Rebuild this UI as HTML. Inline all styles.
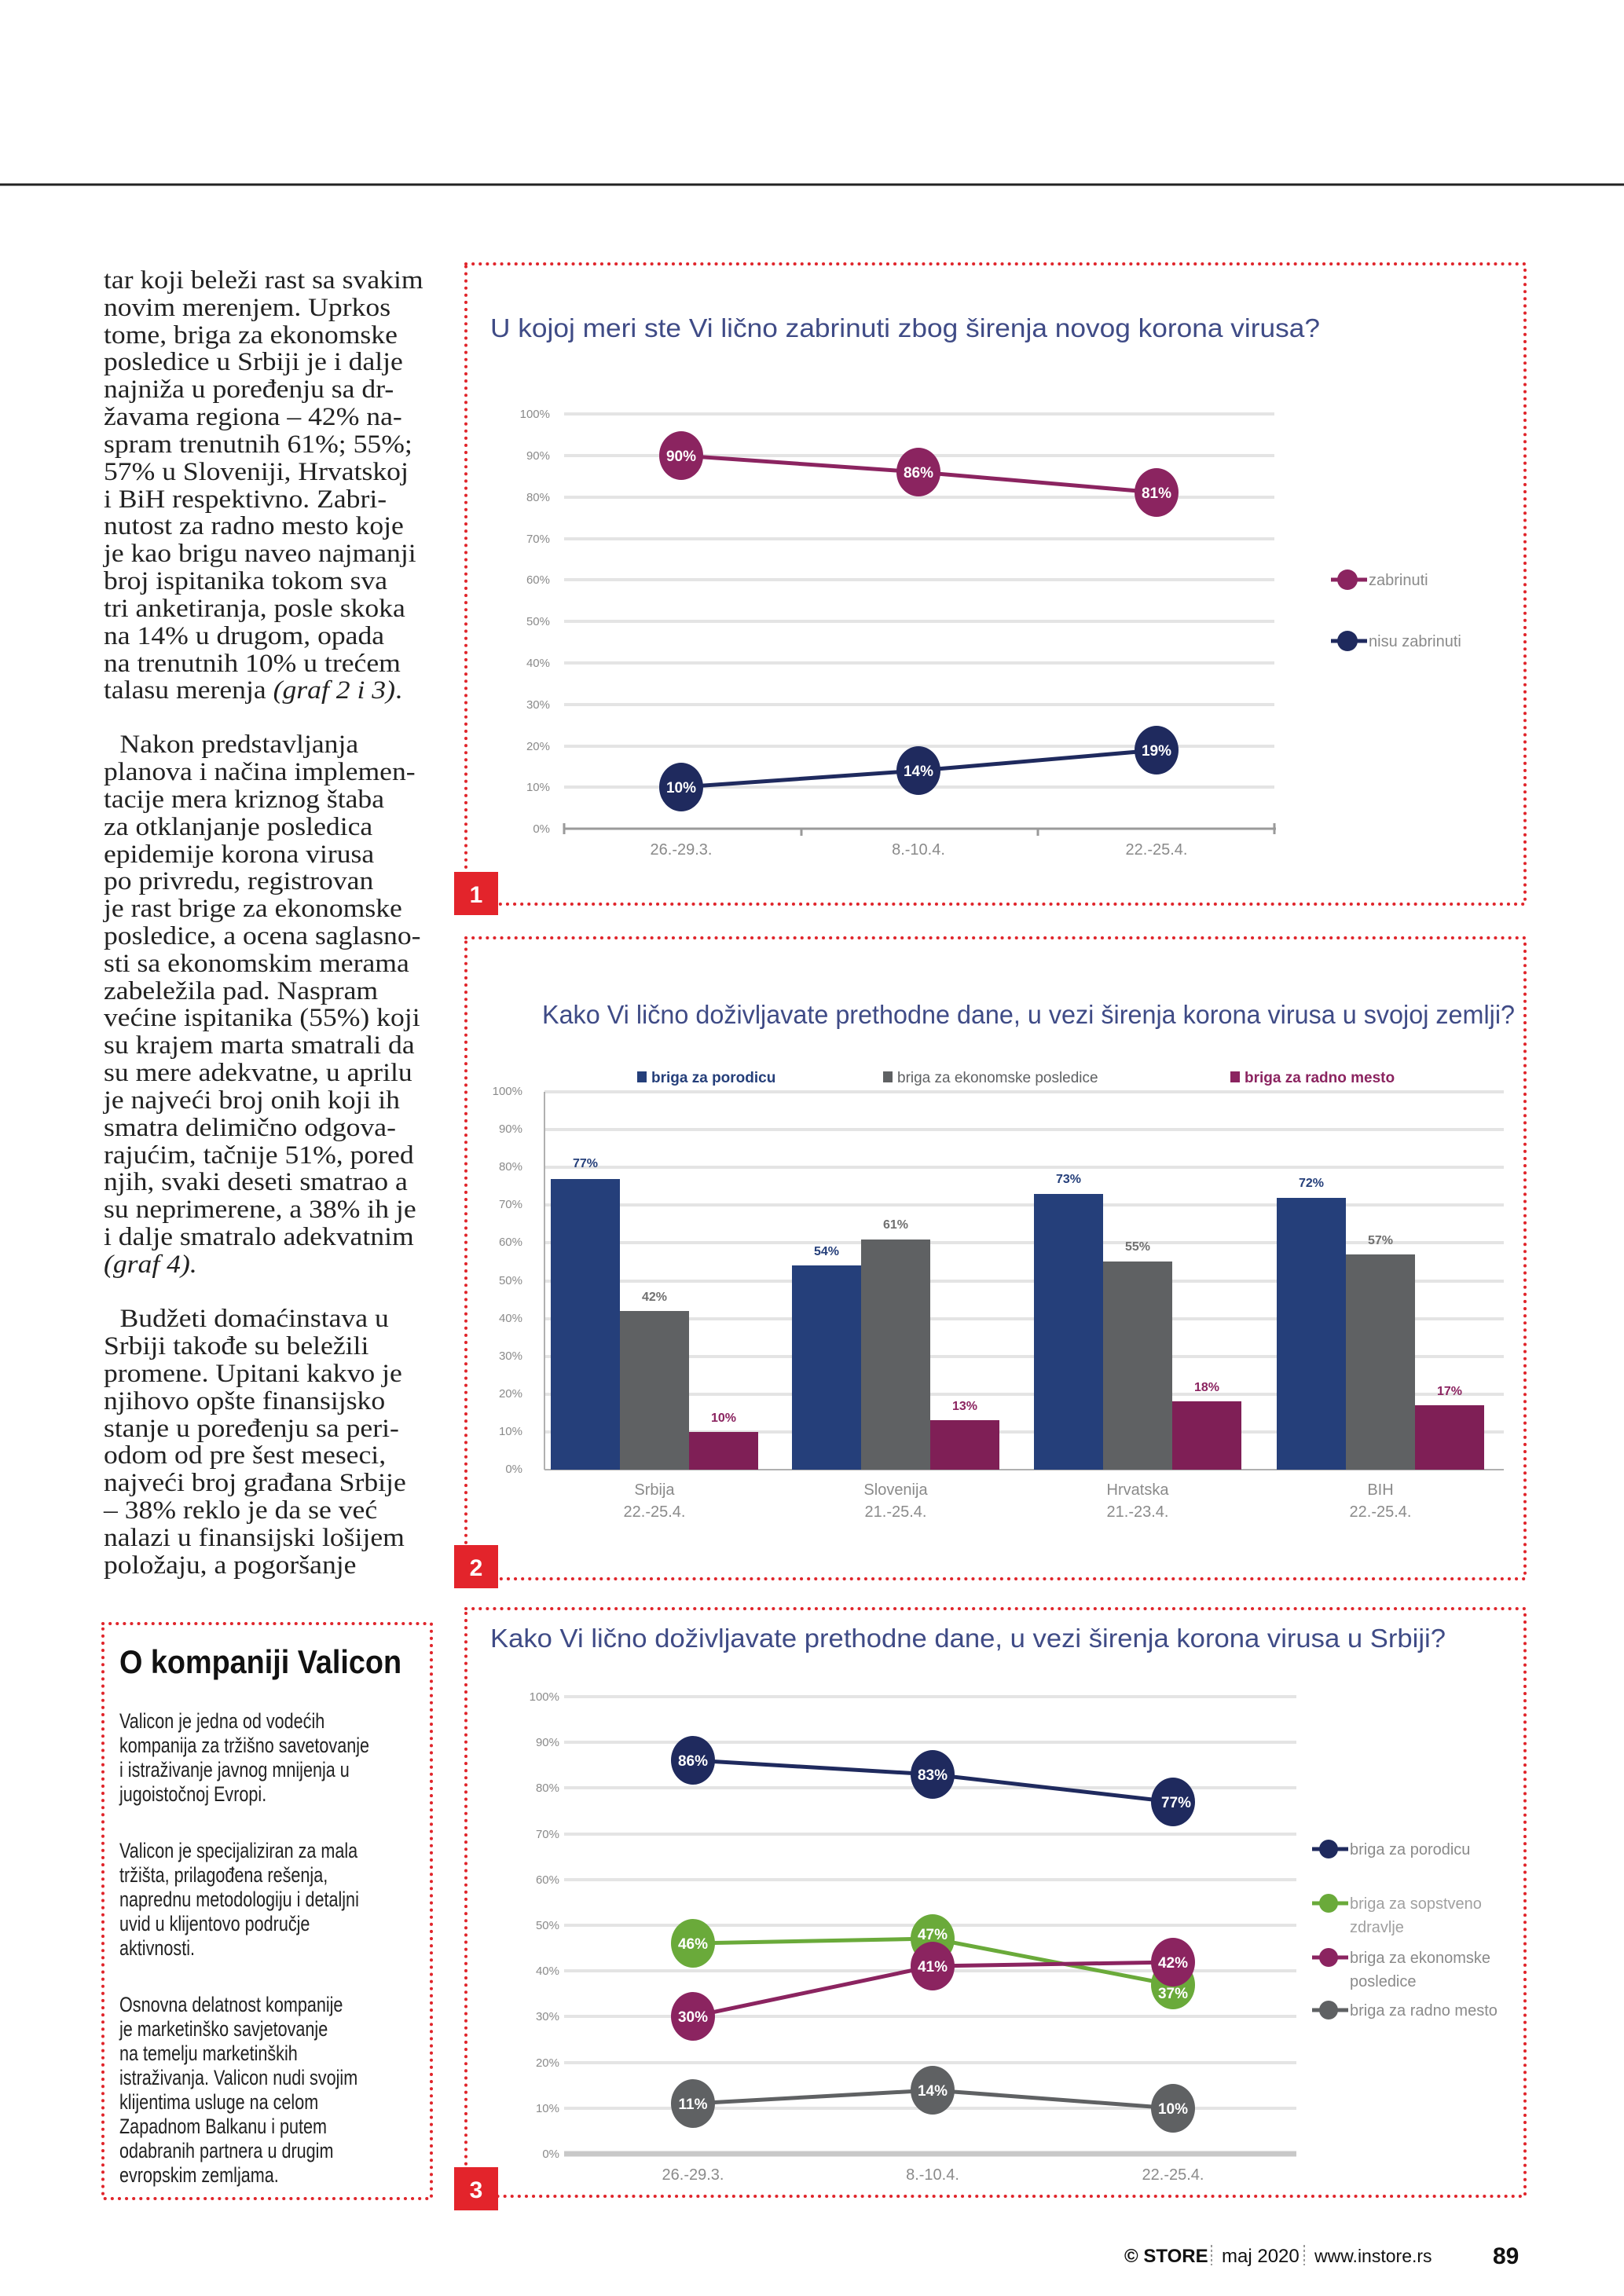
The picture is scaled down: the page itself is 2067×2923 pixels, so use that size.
<!DOCTYPE html>
<html><head><meta charset="utf-8">
<style>
html,body{margin:0;padding:0;background:#fff;}
svg{display:block;}
.body{font-family:"Liberation Serif",serif;font-size:33px;fill:#222;}
.ax{font-family:"Liberation Sans",sans-serif;font-size:15px;fill:#8a8a8a;}
.xl{font-family:"Liberation Sans",sans-serif;font-size:20px;fill:#8a8a8a;}
.tt{font-family:"Liberation Sans",sans-serif;font-size:33px;fill:#3f4b86;}
.ml{font-family:"Liberation Sans",sans-serif;font-size:19px;font-weight:bold;fill:#fff;}
.lg{font-family:"Liberation Sans",sans-serif;font-size:20px;fill:#8a8a8a;}
.vb{font-family:"Liberation Sans",sans-serif;font-size:16px;font-weight:bold;}
.nar{font-family:"Liberation Sans",sans-serif;font-size:27px;fill:#222;}
</style></head>
<body>
<svg width="2067" height="2923" viewBox="0 0 2067 2923" xmlns="http://www.w3.org/2000/svg">
<rect width="2067" height="2923" fill="#fff"/>
<line x1="0" y1="235" x2="2067" y2="235" stroke="#222" stroke-width="3"/>

<!-- left text column -->
<g class="body" transform="translate(132 0) scale(1.08 1) translate(-132 0)">
<text x="132" y="367">tar koji beleži rast sa svakim</text>
<text x="132" y="402">novim merenjem. Uprkos</text>
<text x="132" y="437">tome, briga za ekonomske</text>
<text x="132" y="471">posledice u Srbiji je i dalje</text>
<text x="132" y="506">najniža u poređenju sa dr-</text>
<text x="132" y="541">žavama regiona – 42% na-</text>
<text x="132" y="576">spram trenutnih 61%; 55%;</text>
<text x="132" y="611">57% u Sloveniji, Hrvatskoj</text>
<text x="132" y="646">i BiH respektivno. Zabri-</text>
<text x="132" y="680">nutost za radno mesto koje</text>
<text x="132" y="715">je kao brigu naveo najmanji</text>
<text x="132" y="750">broj ispitanika tokom sva</text>
<text x="132" y="785">tri anketiranja, posle skoka</text>
<text x="132" y="820">na 14% u drugom, opada</text>
<text x="132" y="855">na trenutnih 10% u trećem</text>
<text x="132" y="889">talasu merenja <tspan font-style="italic">(graf 2 i 3)</tspan>.</text>

<text x="151" y="958">Nakon predstavljanja</text>
<text x="132" y="993">planova i načina implemen-</text>
<text x="132" y="1028">tacije mera kriznog štaba</text>
<text x="132" y="1063">za otklanjanje posledica</text>
<text x="132" y="1098">epidemije korona virusa</text>
<text x="132" y="1132">po privredu, registrovan</text>
<text x="132" y="1167">je rast brige za ekonomske</text>
<text x="132" y="1202">posledice, a ocena saglasno-</text>
<text x="132" y="1237">sti sa ekonomskim merama</text>
<text x="132" y="1272">zabeležila pad. Naspram</text>
<text x="132" y="1306">većine ispitanika (55%) koji</text>
<text x="132" y="1341">su krajem marta smatrali da</text>
<text x="132" y="1376">su mere adekvatne, u aprilu</text>
<text x="132" y="1411">je najveći broj onih koji ih</text>
<text x="132" y="1446">smatra delimično odgova-</text>
<text x="132" y="1481">rajućim, tačnije 51%, pored</text>
<text x="132" y="1515">njih, svaki deseti smatrao a</text>
<text x="132" y="1550">su neprimerene, a 38% ih je</text>
<text x="132" y="1585">i dalje smatralo adekvatnim</text>
<text x="132" y="1620" font-style="italic">(graf 4).</text>

<text x="151" y="1689">Budžeti domaćinstava u</text>
<text x="132" y="1724">Srbiji takođe su beležili</text>
<text x="132" y="1759">promene. Upitani kakvo je</text>
<text x="132" y="1794">njihovo opšte finansijsko</text>
<text x="132" y="1829">stanje u poređenju sa peri-</text>
<text x="132" y="1863">odom od pre šest meseci,</text>
<text x="132" y="1898">najveći broj građana Srbije</text>
<text x="132" y="1933">– 38% reklo je da se već</text>
<text x="132" y="1968">nalazi u finansijski lošijem</text>
<text x="132" y="2003">položaju, a pogoršanje</text>
</g>

<!-- Valicon box -->
<rect x="131" y="2067" width="418" height="732" fill="none" stroke="#e0252b" stroke-width="4" stroke-dasharray="0.1 9" stroke-linecap="round"/>
<text x="152" y="2130" font-family="Liberation Sans,sans-serif" font-size="42" font-weight="bold" fill="#111" transform="translate(152 0) scale(0.9 1) translate(-152 0)">O kompaniji Valicon</text>
<g class="nar" transform="translate(152 0) scale(0.8 1) translate(-152 0)">
<text x="152" y="2200">Valicon je jedna od vodećih</text>
<text x="152" y="2231">kompanija za tržišno savetovanje</text>
<text x="152" y="2262">i istraživanje javnog mnijenja u</text>
<text x="152" y="2293">jugoistočnoj Evropi.</text>
<text x="152" y="2365">Valicon je specijaliziran za mala</text>
<text x="152" y="2396">tržišta, prilagođena rešenja,</text>
<text x="152" y="2427">naprednu metodologiju i detaljni</text>
<text x="152" y="2458">uvid u klijentovo područje</text>
<text x="152" y="2489">aktivnosti.</text>
<text x="152" y="2561">Osnovna delatnost kompanije</text>
<text x="152" y="2592">je marketinško savjetovanje</text>
<text x="152" y="2623">na temelju marketinških</text>
<text x="152" y="2654">istraživanja. Valicon nudi svojim</text>
<text x="152" y="2685">klijentima usluge na celom</text>
<text x="152" y="2716">Zapadnom Balkanu i putem</text>
<text x="152" y="2747">odabranih partnera u drugim</text>
<text x="152" y="2778">evropskim zemljama.</text>
</g>

<!-- frames -->
<g fill="none" stroke="#e0252b" stroke-width="4" stroke-dasharray="0.1 9" stroke-linecap="round">
<rect x="593" y="336" width="1348" height="815"/>
<rect x="593" y="1194" width="1348" height="816"/>
<rect x="593" y="2048" width="1348" height="748"/>
</g>
<g font-family="Liberation Sans,sans-serif" font-size="30" font-weight="bold" fill="#fff" text-anchor="middle">
<rect x="578" y="1110" width="56" height="55" fill="#e3242b"/><text x="606" y="1149">1</text>
<rect x="578" y="1967" width="56" height="55" fill="#e3242b"/><text x="606" y="2006">2</text>
<rect x="578" y="2759" width="56" height="55" fill="#e3242b"/><text x="606" y="2798">3</text>
</g>

<!-- CHART 1 -->
<text class="tt" x="624" y="429" textLength="1056" lengthAdjust="spacingAndGlyphs">U kojoj meri ste Vi lično zabrinuti zbog širenja novog korona virusa?</text>
<g stroke="#e4e4e4" stroke-width="4">
<line x1="718" y1="527" x2="1622" y2="527"/><line x1="718" y1="580" x2="1622" y2="580"/>
<line x1="718" y1="633" x2="1622" y2="633"/><line x1="718" y1="686" x2="1622" y2="686"/>
<line x1="718" y1="738" x2="1622" y2="738"/><line x1="718" y1="791" x2="1622" y2="791"/>
<line x1="718" y1="844" x2="1622" y2="844"/><line x1="718" y1="897" x2="1622" y2="897"/>
<line x1="718" y1="950" x2="1622" y2="950"/><line x1="718" y1="1002" x2="1622" y2="1002"/>
</g>
<g stroke="#9a9a9a" stroke-width="3"><line x1="718" y1="1055" x2="1624" y2="1055"/>
<line x1="718" y1="1048" x2="718" y2="1062"/><line x1="1020" y1="1055" x2="1020" y2="1064"/><line x1="1321" y1="1055" x2="1321" y2="1064"/><line x1="1622" y1="1048" x2="1622" y2="1062"/></g>
<g class="ax" text-anchor="end">
<text x="700" y="532">100%</text><text x="700" y="585">90%</text><text x="700" y="638">80%</text><text x="700" y="691">70%</text><text x="700" y="743">60%</text><text x="700" y="796">50%</text><text x="700" y="849">40%</text><text x="700" y="902">30%</text><text x="700" y="955">20%</text><text x="700" y="1007">10%</text><text x="700" y="1060">0%</text>
</g>
<g class="xl" text-anchor="middle"><text x="867" y="1088">26.-29.3.</text><text x="1169" y="1088">8.-10.4.</text><text x="1472" y="1088">22.-25.4.</text></g>
<polyline points="867,580 1169,601 1472,627" fill="none" stroke="#8b2460" stroke-width="5"/>
<polyline points="867,1002 1169,981 1472,955" fill="none" stroke="#1f2a5e" stroke-width="5"/>
<g fill="#8b2460"><ellipse cx="867" cy="580" rx="28" ry="31"/><ellipse cx="1169" cy="601" rx="28" ry="31"/><ellipse cx="1472" cy="627" rx="28" ry="31"/></g>
<g fill="#1f2a5e"><ellipse cx="867" cy="1002" rx="28" ry="31"/><ellipse cx="1169" cy="981" rx="28" ry="31"/><ellipse cx="1472" cy="955" rx="28" ry="31"/></g>
<g class="ml" text-anchor="middle"><text x="867" y="587">90%</text><text x="1169" y="608">86%</text><text x="1472" y="634">81%</text>
<text x="867" y="1009">10%</text><text x="1169" y="988">14%</text><text x="1472" y="962">19%</text></g>
<line x1="1694" y1="738" x2="1740" y2="738" stroke="#8b2460" stroke-width="5"/><circle cx="1715" cy="738" r="13" fill="#8b2460"/>
<text class="lg" x="1742" y="745">zabrinuti</text>
<line x1="1694" y1="816" x2="1740" y2="816" stroke="#1f2a5e" stroke-width="5"/><circle cx="1715" cy="816" r="13" fill="#1f2a5e"/>
<text class="lg" x="1742" y="823">nisu zabrinuti</text>

<!-- CHART 2 -->
<text class="tt" x="690" y="1303" font-size="32" textLength="1238" lengthAdjust="spacingAndGlyphs">Kako Vi lično doživljavate prethodne dane, u vezi širenja korona virusa u svojoj zemlji?</text>
<g font-family="Liberation Sans,sans-serif" font-size="19" font-weight="bold">
<rect x="811" y="1364" width="12" height="14" fill="#253f7a"/><text x="829" y="1378" fill="#253f7a">briga za porodicu</text>
<rect x="1124" y="1364" width="12" height="14" fill="#5f6163"/><text x="1142" y="1378" fill="#5f6163" font-weight="normal">briga za ekonomske posledice</text>
<rect x="1566" y="1364" width="12" height="14" fill="#8b2460"/><text x="1584" y="1378" fill="#8b2460">briga za radno mesto</text>
</g>
<g stroke="#e4e4e4" stroke-width="4">
<line x1="693" y1="1390" x2="1914" y2="1390"/><line x1="693" y1="1438" x2="1914" y2="1438"/>
<line x1="693" y1="1486" x2="1914" y2="1486"/><line x1="693" y1="1534" x2="1914" y2="1534"/>
<line x1="693" y1="1582" x2="1914" y2="1582"/><line x1="693" y1="1631" x2="1914" y2="1631"/>
<line x1="693" y1="1679" x2="1914" y2="1679"/><line x1="693" y1="1727" x2="1914" y2="1727"/>
<line x1="693" y1="1775" x2="1914" y2="1775"/><line x1="693" y1="1823" x2="1914" y2="1823"/>
</g>
<g stroke="#b0b0b0" stroke-width="2"><line x1="693" y1="1390" x2="693" y2="1871"/><line x1="693" y1="1871" x2="1914" y2="1871"/></g>
<g class="ax" font-size="12" text-anchor="end">
<text x="665" y="1394">100%</text><text x="665" y="1442">90%</text><text x="665" y="1490">80%</text><text x="665" y="1538">70%</text><text x="665" y="1586">60%</text><text x="665" y="1635">50%</text><text x="665" y="1683">40%</text><text x="665" y="1731">30%</text><text x="665" y="1779">20%</text><text x="665" y="1827">10%</text><text x="665" y="1875">0%</text>
</g>
<g fill="#253f7a">
<rect x="701" y="1501" width="88" height="370"/><rect x="1008" y="1611" width="88" height="260"/>
<rect x="1316" y="1520" width="88" height="351"/><rect x="1625" y="1525" width="88" height="346"/>
</g>
<g fill="#5f6163">
<rect x="789" y="1669" width="88" height="202"/><rect x="1096" y="1578" width="88" height="293"/>
<rect x="1404" y="1606" width="88" height="265"/><rect x="1713" y="1597" width="88" height="274"/>
</g>
<g fill="#7f1f56">
<rect x="877" y="1823" width="88" height="48"/><rect x="1184" y="1808" width="88" height="63"/>
<rect x="1492" y="1784" width="88" height="87"/><rect x="1801" y="1789" width="88" height="82"/>
</g>
<g class="vb" text-anchor="middle">
<text x="745" y="1486" fill="#253f7a">77%</text><text x="1052" y="1598" fill="#253f7a">54%</text><text x="1360" y="1506" fill="#253f7a">73%</text><text x="1669" y="1511" fill="#253f7a">72%</text>
<text x="833" y="1656" fill="#707070">42%</text><text x="1140" y="1564" fill="#707070">61%</text><text x="1448" y="1592" fill="#707070">55%</text><text x="1757" y="1584" fill="#707070">57%</text>
<text x="921" y="1810" fill="#8b2460">10%</text><text x="1228" y="1795" fill="#8b2460">13%</text><text x="1536" y="1771" fill="#8b2460">18%</text><text x="1845" y="1776" fill="#8b2460">17%</text>
</g>
<g class="xl" font-size="19" fill="#777" text-anchor="middle">
<text x="833" y="1903">Srbija</text><text x="833" y="1931">22.-25.4.</text>
<text x="1140" y="1903">Slovenija</text><text x="1140" y="1931">21.-25.4.</text>
<text x="1448" y="1903">Hrvatska</text><text x="1448" y="1931">21.-23.4.</text>
<text x="1757" y="1903">BIH</text><text x="1757" y="1931">22.-25.4.</text>
</g>

<!-- CHART 3 -->
<text class="tt" x="624" y="2097" font-size="32" textLength="1216" lengthAdjust="spacingAndGlyphs">Kako Vi lično doživljavate prethodne dane, u vezi širenja korona virusa u Srbiji?</text>
<g stroke="#e4e4e4" stroke-width="4">
<line x1="718" y1="2160" x2="1650" y2="2160"/><line x1="718" y1="2218" x2="1650" y2="2218"/>
<line x1="718" y1="2276" x2="1650" y2="2276"/><line x1="718" y1="2335" x2="1650" y2="2335"/>
<line x1="718" y1="2393" x2="1650" y2="2393"/><line x1="718" y1="2451" x2="1650" y2="2451"/>
<line x1="718" y1="2509" x2="1650" y2="2509"/><line x1="718" y1="2567" x2="1650" y2="2567"/>
<line x1="718" y1="2626" x2="1650" y2="2626"/><line x1="718" y1="2684" x2="1650" y2="2684"/>
</g>
<line x1="718" y1="2742" x2="1650" y2="2742" stroke="#c8c8c8" stroke-width="7"/>
<g class="ax" text-anchor="end">
<text x="712" y="2165">100%</text><text x="712" y="2223">90%</text><text x="712" y="2281">80%</text><text x="712" y="2340">70%</text><text x="712" y="2398">60%</text><text x="712" y="2456">50%</text><text x="712" y="2514">40%</text><text x="712" y="2572">30%</text><text x="712" y="2631">20%</text><text x="712" y="2689">10%</text><text x="712" y="2747">0%</text>
</g>
<g class="xl" text-anchor="middle"><text x="882" y="2775">26.-29.3.</text><text x="1187" y="2775">8.-10.4.</text><text x="1493" y="2775">22.-25.4.</text></g>
<g fill="none" stroke-width="5">
<polyline points="882,2241 1187,2259 1493,2294" stroke="#1f2a5e"/>
<polyline points="882,2474 1187,2468 1493,2527" stroke="#6aaa3a"/>
<polyline points="882,2567 1187,2503 1493,2498" stroke="#8b2460"/>
<polyline points="882,2678 1187,2661 1493,2684" stroke="#5f6163"/>
</g>
<g fill="#1f2a5e"><ellipse cx="882" cy="2241" rx="28" ry="31"/><ellipse cx="1187" cy="2259" rx="28" ry="31"/><ellipse cx="1493" cy="2294" rx="28" ry="31"/></g>
<g fill="#6aaa3a"><ellipse cx="882" cy="2474" rx="28" ry="31"/><ellipse cx="1187" cy="2468" rx="28" ry="31"/><ellipse cx="1493" cy="2527" rx="28" ry="31"/></g>
<g fill="#8b2460"><ellipse cx="882" cy="2567" rx="28" ry="31"/><ellipse cx="1187" cy="2503" rx="28" ry="31"/><ellipse cx="1493" cy="2498" rx="28" ry="31"/></g>
<g fill="#5f6163"><ellipse cx="882" cy="2678" rx="28" ry="31"/><ellipse cx="1187" cy="2661" rx="28" ry="31"/><ellipse cx="1493" cy="2684" rx="28" ry="31"/></g>
<g class="ml" text-anchor="middle">
<text x="882" y="2248">86%</text><text x="1187" y="2266">83%</text><text x="1497" y="2301">77%</text>
<text x="882" y="2481">46%</text><text x="1187" y="2469">47%</text><text x="1493" y="2544">37%</text>
<text x="882" y="2574">30%</text><text x="1187" y="2510">41%</text><text x="1493" y="2505">42%</text>
<text x="882" y="2685">11%</text><text x="1187" y="2668">14%</text><text x="1493" y="2691">10%</text>
</g>
<g class="lg" font-size="19">
<line x1="1670" y1="2354" x2="1716" y2="2354" stroke="#1f2a5e" stroke-width="5"/><circle cx="1691" cy="2354" r="12" fill="#1f2a5e"/>
<text x="1718" y="2361">briga za porodicu</text>
<line x1="1670" y1="2423" x2="1716" y2="2423" stroke="#6aaa3a" stroke-width="5"/><circle cx="1691" cy="2423" r="12" fill="#6aaa3a"/>
<text x="1718" y="2430" fill="#a0a0a0">briga za sopstveno</text><text x="1718" y="2460" fill="#a0a0a0">zdravlje</text>
<line x1="1670" y1="2492" x2="1716" y2="2492" stroke="#8b2460" stroke-width="5"/><circle cx="1691" cy="2492" r="12" fill="#8b2460"/>
<text x="1718" y="2499">briga za ekonomske</text><text x="1718" y="2529">posledice</text>
<line x1="1670" y1="2559" x2="1716" y2="2559" stroke="#5f6163" stroke-width="5"/><circle cx="1691" cy="2559" r="12" fill="#5f6163"/>
<text x="1718" y="2566">briga za radno mesto</text>
</g>

<!-- footer -->
<g font-family="Liberation Sans,sans-serif" fill="#111">
<text x="1431" y="2880" font-size="24" font-weight="bold">© STORE</text>
<line x1="1542" y1="2858" x2="1542" y2="2884" stroke="#999" stroke-width="2" stroke-dasharray="3 3"/>
<text x="1555" y="2880" font-size="24">maj 2020</text>
<line x1="1660" y1="2858" x2="1660" y2="2884" stroke="#999" stroke-width="2" stroke-dasharray="3 3"/>
<text x="1673" y="2880" font-size="23">www.instore.rs</text>
<text x="1900" y="2882" font-size="30" font-weight="bold">89</text>
</g>
</svg>
</body></html>
